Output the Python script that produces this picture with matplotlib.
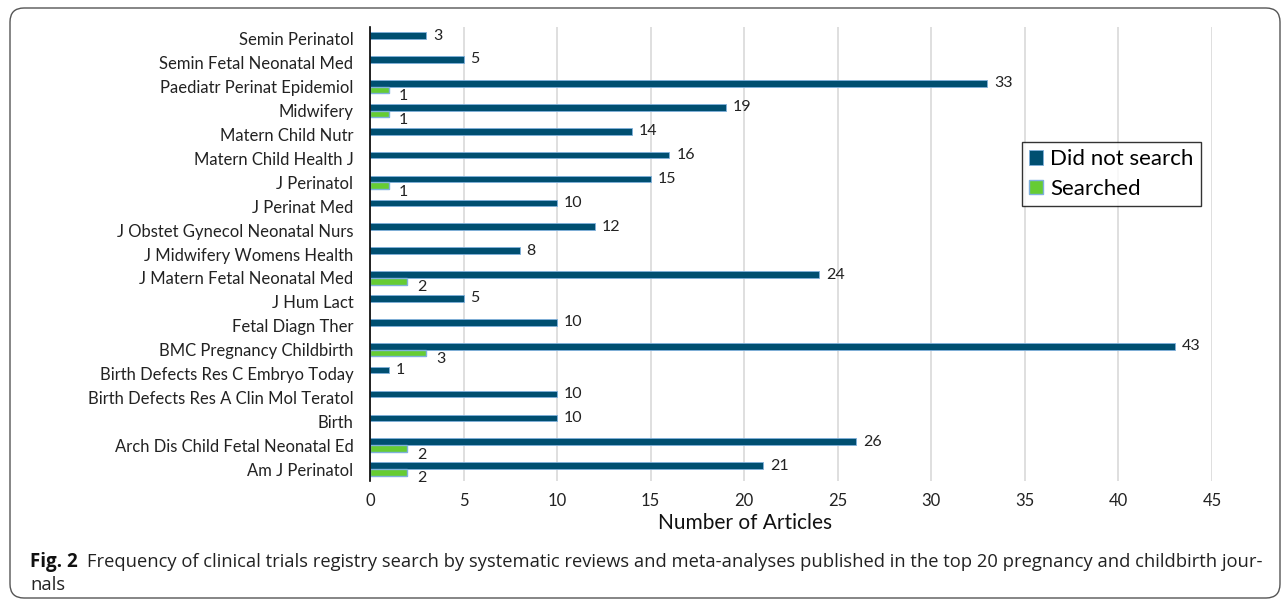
import matplotlib.pyplot as plt
from matplotlib.patches import FancyBboxPatch
from matplotlib.transforms import IdentityTransform
import numpy as np

# journals, top to bottom as in the figure
journals = [
    "Semin Perinatol", "Semin Fetal Neonatal Med", "Paediatr Perinat Epidemiol",
    "Midwifery", "Matern Child Nutr", "Matern Child Health J", "J Perinatol",
    "J Perinat Med", "J Obstet Gynecol Neonatal Nurs", "J Midwifery Womens Health",
    "J Matern Fetal Neonatal Med", "J Hum Lact", "Fetal Diagn Ther",
    "BMC Pregnancy Childbirth", "Birth Defects Res C Embryo Today",
    "Birth Defects Res A Clin Mol Teratol", "Birth",
    "Arch Dis Child Fetal Neonatal Ed", "Am J Perinatol",
]
did_not_search = [3, 5, 33, 19, 14, 16, 15, 10, 12, 8, 24, 5, 10, 43, 1, 10, 10, 26, 21]
searched = [0, 0, 1, 1, 0, 0, 1, 0, 0, 0, 2, 0, 0, 3, 0, 0, 0, 2, 2]
xticks = [0, 5, 10, 15, 20, 25, 30, 35, 40, 45]

DARK = "#004f71"
GREEN = "#66cc33"
EDGE = "#7fb0dc"
FONT = "Lato"

W, H = 1284, 603
fig = plt.figure(figsize=(W / 100, H / 100), dpi=100)
ax = fig.add_axes([370 / W, 1 - 481 / H, (1212 - 370) / W, (481 - 27) / H])

y = np.arange(len(journals))
h = 0.28
ax.barh(y - h / 2, did_not_search, height=h, color=DARK, edgecolor=EDGE,
        linewidth=0.6, label="Did not search", zorder=3)
s = np.array(searched)
mask = s > 0
ax.barh((y + h / 2)[mask], s[mask], height=h, color=GREEN, edgecolor=EDGE,
        linewidth=1.0, label="Searched", zorder=3)

# value labels
for yi, v in zip(y, did_not_search):
    ax.annotate(str(v), (v, yi - h / 2), xytext=(7, 0), textcoords="offset pixels",
                ha="left", va="center", fontsize=11.5, family=FONT, color="#222222")
for yi, v in zip(y, searched):
    if v > 0:
        ax.annotate(str(v), (v, yi + h / 2), xytext=(10, -6), textcoords="offset pixels",
                    ha="left", va="center", fontsize=11.5, family=FONT, color="#222222")

ax.set_ylim(len(journals) - 0.5, -0.5)
ax.set_xlim(0, 45)
ax.set_yticks(y)
ax.set_yticklabels(journals, fontsize=12, family=FONT, color="#222222")
ax.set_xticks(xticks)
ax.set_xticklabels([str(t) for t in xticks], fontsize=12, family=FONT, color="#222222")
ax.tick_params(axis="both", length=0)
ax.tick_params(axis="y", pad=12)
ax.tick_params(axis="x", pad=9)
ax.grid(axis="x", color="#d9d9d9", linewidth=1.2, zorder=0)
ax.set_axisbelow(True)
for sp in ["top", "right", "bottom"]:
    ax.spines[sp].set_visible(False)
ax.spines["left"].set_color("black")
ax.spines["left"].set_linewidth(1.2)
ax.spines["left"].set_zorder(4)

ax.set_xlabel("Number of Articles", fontsize=15, family=FONT, color="#111111")
ax.xaxis.set_label_coords((745 - 370) / (1212 - 370), -(523 - 481) / (481 - 27))
ax.xaxis.label.set_va("center")

leg = ax.legend(loc="upper left", bbox_to_anchor=((1022 - 370) / (1212 - 370), 1 - (142 - 27) / (481 - 27)),
                prop={"family": FONT, "size": 16}, frameon=True, fancybox=False,
                handlelength=0.6, handleheight=0.6, handletextpad=0.35,
                borderpad=0.33, labelspacing=0.42, borderaxespad=0)
leg.get_frame().set_edgecolor("black")
leg.get_frame().set_linewidth(1.0)

# caption
t1 = fig.text(30 / W, 1 - 562 / H, "Fig. 2", fontsize=13.5, family="Open Sans",
              weight="bold", va="center", ha="left", color="#111111")
fig.canvas.draw()
bb = t1.get_window_extent()
cap1 = ("Frequency of clinical trials registry search by systematic reviews and "
        "meta-analyses published in the top 20 pregnancy and childbirth jour-")
fig.text((bb.x1 + 9) / W, 1 - 562 / H, cap1, fontsize=13.25, family="Open Sans",
         va="center", ha="left", color="#222222")
fig.text(30 / W, 1 - 585 / H, "nals", fontsize=13.25, family="Open Sans",
         va="center", ha="left", color="#222222")

border = FancyBboxPatch((10, 5), 1270, 590, boxstyle="round,pad=0,rounding_size=14",
                        transform=IdentityTransform(), fill=False,
                        edgecolor="#555555", linewidth=1.0)
fig.patches.append(border)

fig.savefig("out.png", dpi=100)
